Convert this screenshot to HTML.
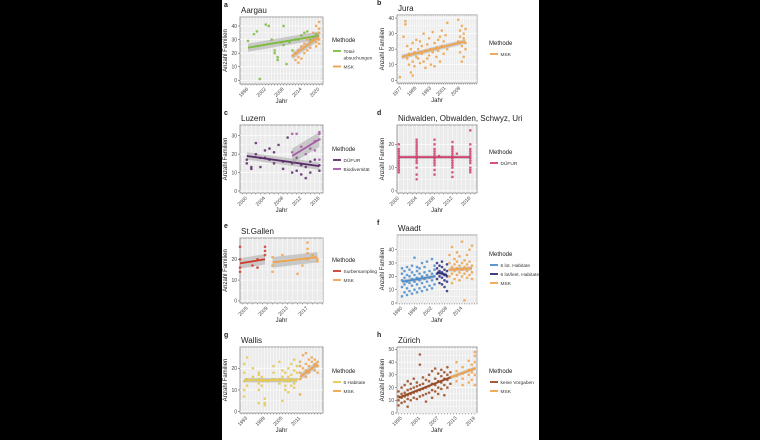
<!DOCTYPE html>
<html><head><meta charset="utf-8"><style>
html,body{margin:0;padding:0;background:#000;}
svg{display:block;font-family:"Liberation Sans",sans-serif;}
</style></head><body>
<svg id="fig" width="760" height="440" viewBox="0 0 760 440">
<rect x="222" y="0" width="317" height="440" fill="#fff"/>
</svg>
<script>
// ---------- DATA ----------
const aTotal=[[1996,29],[1998,34],[1999,36],[2000,1],[2002,41],[2003,40],[2004,30],[2005,20],[2005,22],[2006,15],[2006,17],[2007,28],[2008,40],[2008,26],[2009,12],[2010,28],[2011,22],[2012,30],[2013,30],[2014,33],[2015,35],[2016,36],[2017,30],[2018,32],[2019,34]];
const aMSK=[[2011,18],[2012,15],[2012,20],[2013,13],[2013,17],[2013,22],[2014,16],[2014,25],[2015,20],[2015,27],[2016,22],[2016,30],[2017,24],[2017,28],[2018,30],[2018,35],[2019,28],[2019,40],[2020,30],[2020,35],[2020,38],[2020,43],[2020,27],[2019,25]];
const bMSK=[[1976,2],[1978,28],[1979,38],[1979,36],[1980,22],[1980,14],[1981,10],[1981,17],[1982,5],[1982,20],[1983,3],[1983,12],[1983,24],[1984,18],[1984,9],[1985,15],[1985,26],[1986,14],[1986,20],[1987,11],[1987,25],[1988,17],[1988,22],[1989,12],[1989,30],[1990,19],[1990,8],[1991,23],[1991,14],[1992,27],[1992,16],[1993,20],[1993,10],[1994,31],[1994,18],[1995,24],[1995,9],[1996,21],[1996,15],[1997,26],[1997,19],[1998,28],[1998,12],[1999,22],[1999,32],[2000,17],[2000,25],[2001,29],[2002,37],[2002,20],[2008,39],[2008,25],[2009,32],[2009,18],[2009,28],[2010,22],[2010,35],[2010,12],[2011,27],[2011,15],[2011,30],[2012,24],[2012,20],[2012,33]];
const cDufur=[[2000,17],[2000,15],[2001,12],[2001,13],[2002,20],[2002,26],[2003,13],[2003,18],[2004,22],[2004,18],[2005,17],[2005,23],[2006,15],[2006,21],[2007,25],[2008,12],[2008,16],[2009,29],[2010,15],[2010,10],[2011,18],[2011,11],[2012,9],[2012,14],[2013,7],[2013,13],[2014,10],[2014,16],[2015,17],[2016,11],[2016,14]];
const cBio=[[2010,31],[2010,21],[2011,31],[2012,24],[2013,20],[2014,23],[2015,22],[2015,27],[2016,28],[2016,31],[2016,32],[2016,17]];
const dYears=[2000,2004,2008,2009,2012,2013,2016];
const dValues=[[8,9,10,11,12,13,14,15,16,17,18,20],[5,7,10,12,13,14,15,16,17,18,19,20,21,22],[7,9,11,12,13,14,15,16,17,18,20,22],[15],[6,8,10,11,12,13,14,15,16,17,18,19,21],[16],[8,9,10,12,13,14,15,16,17,18,20,26]];
const eSurber=[[2003.5,16],[2003.5,14],[2003.5,26],[2003.5,20],[2006,17],[2007,16],[2007,20],[2008.5,26],[2008.5,24],[2008.5,22]];
const eMSK=[[2010,17],[2010,14],[2010,21],[2012,22],[2015,13],[2016,17],[2017,28],[2017,25],[2017,20],[2017,23],[2018,22],[2019,19],[2019,20]];
const fBlueYears=[1990,1991,1992,1993,1994,1995,1996,1997,1998,1999,2000,2001,2002,2003];
const fBlueValues=[[5,12,17,22,26],[8,14,19,24],[6,11,16,21,27],[9,15,20,25],[7,13,18,23,28],[10,16,21,34],[8,14,19,24,27],[11,17,22,26],[9,15,20,30],[12,18,23,27],[10,16,21,31],[13,19,24],[11,17,22,33],[14,20,25,28]];
const fNavyYears=[2004,2005,2006,2007,2008];
const fNavyValues=[[18,22,26,30],[15,20,24,28],[14,19,23,27,31],[12,17,21,25],[9,16,20,24,29]];
const fMSKYears=[2009,2010,2011,2012,2013,2014,2015,2016,2017,2018];
const fMSKValues=[[20,25,30,36],[15,22,27,42],[18,24,29,33],[21,26,31,38],[17,23,28,35],[20,25,30,46],[22,27,32,2],[19,24,29,36],[21,26,31,40],[18,23,28,43]];
const gHabYears=[1992,1993,1995,1997,1998,1999,2000,2002,2004,2005,2006,2007,2008,2009,2010];
const gHabValues=[[7,10,14,18,22],[12,15,25],[16,20],[4,10,13,15,17,18],[12,14,16],[4,6,3],[14],[15,18,21],[23,15,13],[5,16,19],[18,10,12,14],[20,16,14,9],[22,17,12,15],[24,19,13,11],[21,15,18]];
const gMSKYears=[2011,2012,2013,2014,2015,2016,2017];
const gMSKValues=[[8,15,18,21,23],[17,20,26],[16,19,22,27],[18,21,24],[20,23,25],[19,22,24],[21,23,18]];
const hKeineYears=[1994,1995,1996,1997,1998,1999,2000,2001,2002,2003,2004,2005,2006,2007,2008,2009,2010,2011];
const hKeineValues=[[6,10,13,17],[8,12,15,20],[9,13,16,22],[5,11,14,18,25],[10,15,19,23],[12,16,20,27],[11,17,21,24],[13,18,22,46,38],[14,19,23,28],[9,15,20,26],[16,21,25,30],[12,18,23,33],[17,22,27,35],[15,20,25,31],[19,24,29,34],[14,22,27,32],[20,26,30,36],[23,28,32]];
const hMSKYears=[2013,2015,2017,2018,2019];
const hMSKValues=[[25,29,33,40],[22,27,31,36],[24,30,34,41],[26,32,38],[22,30,35,40,45,48]];
// fitted trend endpoints [x0,y0,x1,y1]
const fitATotal=[1996,24,2020,33], fitAMSK=[2011,18,2020,32];
const fitB=[1977,15,2012,25];
const fitCDufur=[2000,19,2016,13.5], fitCBio=[2010,19,2016,28];
const fitD=[2000,14.5,2016,14.5];
const fitESurber=[2003.5,18,2008.5,20], fitEMSK=[2010,18.5,2019,21];
const fitFBlue=[1990,16,2003,20], fitFNavy=[2004,23,2008,21], fitFMSK=[2009,25,2018,26];
const fitGHab=[1992,14.5,2010,14.5], fitGMSK=[2011,16,2017,22];
const fitHKeine=[1994,12,2011,28], fitHMSK=[2011,28,2019,35];
const xTicksA=[1996,2002,2008,2014,2020], xTicksB=[1977,1985,1993,2001,2009], xTicksC=[2000,2004,2008,2012,2016], xTicksD=[2000,2004,2008,2012,2016], xTicksE=[2005,2009,2013,2017], xTicksF=[1990,1996,2002,2008,2014], xTicksG=[1993,1999,2005,2011], xTicksH=[1995,2001,2007,2013,2019];
const yTicks40=[0,10,20,30,40], yTicks30=[0,10,20,30], yTicks20=[0,10,20], yTicks50=[0,10,20,30,40,50];

function expand(years,vals){const o=[];years.forEach((y,i)=>vals[i].forEach(v=>o.push([y,v])));return o;}

const NS='http://www.w3.org/2000/svg';
const svg=document.getElementById('fig');
function mk(tag,attrs,parent){const e=document.createElementNS(NS,tag);for(const k in attrs)e.setAttribute(k,attrs[k]);(parent||svg).appendChild(e);return e;}
function txt(s,attrs,parent){const e=mk('text',attrs,parent);e.textContent=s;return e;}

function panel(p){
  const g=mk('g',{});
  
  
  const X=v=>p.x0+(v-p.xmin)/(p.xmax-p.xmin)*(p.x1-p.x0);
  const Y=v=>p.y1-(v-p.ymin)/(p.ymax-p.ymin)*(p.y1-p.y0);
  const bg=mk('rect',{x:p.x0,y:p.y0,width:p.x1-p.x0,height:p.y1-p.y0,fill:'#ebebeb',stroke:'#888','stroke-width':0.8},g);
  
  
  for(let yr=Math.ceil(p.xmin);yr<=p.xmax;yr++){mk('line',{x1:X(yr),x2:X(yr),y1:p.y0,y2:p.y1,stroke:'#fff','stroke-width':0.5},g);}
  p.yt.forEach(v=>{mk('line',{x1:p.x0,x2:p.x1,y1:Y(v),y2:Y(v),stroke:'#fff','stroke-width':0.7},g);});
  for(let i=0;i<p.yt.length-1;i++){const m=(p.yt[i]+p.yt[i+1])/2;mk('line',{x1:p.x0,x2:p.x1,y1:Y(m),y2:Y(m),stroke:'#fff','stroke-width':0.4},g);}
  p.series.forEach(s=>{
    const f=s.fit,w=s.band||2;
    const rib=mk('polygon',{points:`${X(f[0])},${Y(f[1]+w)} ${X(f[2])},${Y(f[3]+w)} ${X(f[2])},${Y(f[3]-w)} ${X(f[0])},${Y(f[1]-w)}`,fill:'#999','fill-opacity':0.45},g);
    
    
    s.pts.forEach(pt=>{
      const c=mk('circle',{cx:X(pt[0]),cy:Y(pt[1]),r:1.3,fill:s.color,'fill-opacity':0.85},g);
      
      
    });
    const l=mk('line',{x1:X(f[0]),y1:Y(f[1]),x2:X(f[2]),y2:Y(f[3]),stroke:s.color,'stroke-width':1.8},g);
    
    
  });
  p.yt.forEach(v=>{
    mk('line',{x1:p.x0-2,x2:p.x0,y1:Y(v),y2:Y(v),stroke:'#444','stroke-width':0.5},g);
    const t=txt(String(v),{x:p.x0-3,y:Y(v)+1.8,'font-size':5,'text-anchor':'end',fill:'#444'},g);
    
    
  });
  for(let yr=Math.ceil(p.xmin);yr<=p.xmax;yr++){mk('line',{x1:X(yr),x2:X(yr),y1:p.y1,y2:p.y1+1.5,stroke:'#444','stroke-width':0.4},g);}
  p.xt.forEach(v=>{
    const x=X(v),y=p.y1+4;
    const t=txt(String(v),{x:x,y:y,'font-size':5,'text-anchor':'end',fill:'#444',transform:`rotate(-45 ${x+2} ${y})`},g);
    
    
  });
  const yt=txt('Anzahl Familien',{x:0,y:0,'font-size':6,'text-anchor':'middle',fill:'#222',transform:`translate(${p.x0-13},${(p.y0+p.y1)/2}) rotate(-90)`},g);
  
  
  const xt=txt('Jahr',{x:(p.x0+p.x1)/2,y:p.y1+19,'font-size':6,'text-anchor':'middle',fill:'#222'},g);
  
  
  const tt=txt(p.title,{x:p.x0+1,y:p.y0-4,'font-size':8,fill:'#222'},g);
  
  
  const lt=txt(p.id,{x:p.lx,y:p.y0-10,'font-size':7,'font-weight':'bold',fill:'#222'},g);
  
  
  const lg=mk('g',{},g);
  
  
  txt('Methode',{x:p.legx,y:p.legy,'font-size':6,fill:'#222'},lg);
  let yy=p.legy+9;
  p.series.forEach(s=>{
    const e=mk('g',{},lg);
    
    
    mk('line',{x1:p.legx+1,x2:p.legx+9,y1:yy,y2:yy,stroke:s.color,'stroke-width':1.8},e);
    s.label.forEach((ln,i)=>txt(ln,{x:p.legx+11.5,y:yy+1.8+i*6.5,'font-size':4.8,fill:'#333'},e));
    yy+=9+(s.label.length-1)*6.5;
  });
}

const L={x0:240,x1:323,lx:224,legx:332}, R={x0:397,x1:477,lx:377,legx:489};
panel({...L,id:'a',title:'Aargau',y0:17,y1:84,xmin:1993.3,xmax:2021.3,ymin:-2.7,ymax:46.6,xt:xTicksA,yt:yTicks40,legy:42,
  series:[{key:'totalabsuchungen',color:'#7cbb3c',pts:aTotal,fit:fitATotal,band:3,label:['Total-','absuchungen']},{key:'msk',color:'#f0a24a',pts:aMSK,fit:fitAMSK,band:2.5,label:['MSK']}]});
panel({...R,id:'b',title:'Jura',y0:15,y1:83,xmin:1974.4,xmax:2018.3,ymin:-1.8,ymax:42,xt:xTicksB,yt:yTicks40,legy:45,
  series:[{key:'msk',color:'#f0a24a',pts:bMSK,fit:fitB,band:1.5,label:['MSK']}]});
panel({...L,id:'c',title:'Luzern',y0:125,y1:193,xmin:1998.5,xmax:2016.8,ymin:-1.1,ymax:35.8,xt:xTicksC,yt:yTicks30,legy:151,
  series:[{key:'dufur',color:'#5a2a6a',pts:cDufur,fit:fitCDufur,band:2,label:['DÜFUR']},{key:'biodiversitaet',color:'#a45aa8',pts:cBio,fit:fitCBio,band:4,label:['Biodiversität']}]});
panel({...R,id:'d',title:'Nidwalden, Obwalden, Schwyz, Uri',y0:125,y1:193,xmin:1999.6,xmax:2017.5,ymin:-0.9,ymax:28.3,xt:xTicksD,yt:yTicks20,legy:154,
  series:[{key:'dufur',color:'#d4406e',pts:expand(dYears,dValues),fit:fitD,band:0.8,label:['DÜFUR']}]});
panel({...L,id:'e',title:'St.Gallen',y0:238,y1:303,xmin:2003.5,xmax:2020.1,ymin:-1,ymax:30.2,xt:xTicksE,yt:yTicks20,legy:262,
  series:[{key:'surbersampling',color:'#d23a2a',pts:eSurber,fit:fitESurber,band:2.5,label:['Surbersampling']},{key:'msk',color:'#f0a24a',pts:eMSK,fit:fitEMSK,band:2.5,label:['MSK']}]});
panel({...R,id:'f',title:'Waadt',y0:235,y1:303,xmin:1988,xmax:2020,ymin:0,ymax:51,xt:xTicksF,yt:yTicks40,legy:256,
  series:[{key:'6-lot-habitate',color:'#4a8ccc',pts:expand(fBlueYears,fBlueValues),fit:fitFBlue,band:1.5,label:['6 lot. Habitate']},{key:'6-lot-lent-habitate',color:'#2b2b7c',pts:expand(fNavyYears,fNavyValues),fit:fitFNavy,band:1.5,label:['6 lot/lent. Habitate']},{key:'msk',color:'#f0a24a',pts:expand(fMSKYears,fMSKValues),fit:fitFMSK,band:1.5,label:['MSK']}]});
panel({...L,id:'g',title:'Wallis',y0:347,y1:413,xmin:1990.6,xmax:2018.8,ymin:-0.6,ymax:29.8,xt:xTicksG,yt:yTicks20,legy:373,
  series:[{key:'6-habitate',color:'#e6c84a',pts:expand(gHabYears,gHabValues),fit:fitGHab,band:1,label:['6 Habitate']},{key:'msk',color:'#f0a24a',pts:expand(gMSKYears,gMSKValues),fit:fitGMSK,band:1.5,label:['MSK']}]});
panel({...R,id:'h',title:'Zürich',y0:347,y1:413,xmin:1993.5,xmax:2019.7,ymin:0,ymax:51.9,xt:xTicksH,yt:yTicks50,legy:373,
  series:[{key:'keine-vorgaben',color:'#9a4a22',pts:expand(hKeineYears,hKeineValues),fit:fitHKeine,band:1,label:['keine Vorgaben']},{key:'msk',color:'#f0a24a',pts:expand(hMSKYears,hMSKValues),fit:fitHMSK,band:1.5,label:['MSK']}]});
</script>
</body></html>
